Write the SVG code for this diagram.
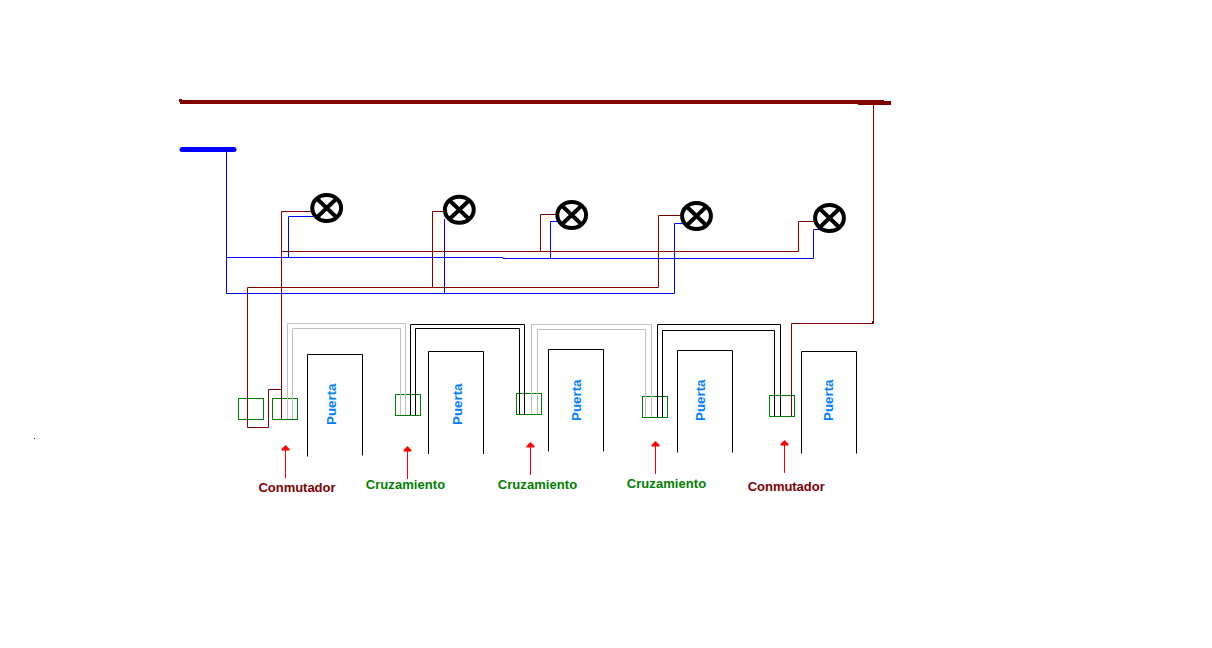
<svg xmlns="http://www.w3.org/2000/svg" width="1212" height="648" viewBox="0 0 1212 648">
<style>
.w{fill:none;stroke-width:1}
.m{stroke:#800000}.b{stroke:#0000ff}.k{stroke:#000}.g{stroke:#c0c0c0}
.box{fill:none;stroke:#008000;stroke-width:1}
.door{fill:none;stroke:#000;stroke-width:1}
.lamp{fill:none;stroke:#000;stroke-width:4}
.pu{font:bold 13.33px "Liberation Sans",Arial,sans-serif;fill:#0080ff}
.con{font:bold 13px "Liberation Sans",Arial,sans-serif;fill:#800000}
.cru{font:bold 13px "Liberation Sans",Arial,sans-serif;fill:#008000}
.ar{stroke:#ff0000;stroke-width:1;fill:none}
.ah{fill:#ff0000}
</style>
<defs>
<g id="lampglyph"><ellipse class="lamp" rx="14.400" ry="13"/><path class="lamp" d="M-10.500-10 10.500 10M10.500-10-10.500 10"/></g>
</defs>
<rect width="1212" height="648" fill="#fff"/>
<g id="busbars">
<path d="M180 102H884" stroke="#800000" stroke-width="4" fill="none"/>
<rect x="179" y="99" width="3" height="3" fill="#800000"/>
<path d="M858 103H891" stroke="#800000" stroke-width="4" fill="none"/>
<path d="M182 149.500H234" stroke="#0000ff" stroke-width="5" stroke-linecap="round" fill="none"/>
<rect x="34" y="438" width="1" height="1" fill="#800000"/>
</g>
<g id="boxes">
<rect class="box" x="238.500" y="398.500" width="25" height="21"/>
<rect class="box" x="272.500" y="398.500" width="25" height="21"/>
<rect class="box" x="395.500" y="394.500" width="25" height="21"/>
<rect class="box" x="516.500" y="393.500" width="25" height="21"/>
<rect class="box" x="642.500" y="396.500" width="25" height="21"/>
<rect class="box" x="769.500" y="395.500" width="25" height="21"/>
</g>
<g id="connectors">
<path class="w b" d="M226.500 150V293.500H674.500V223.500H683"/>
<path class="w b" d="M226.500 257.500H503V258.500H813.500V229.500H821"/>
<path class="w b" d="M288.500 257.500V216.500H313"/>
<path class="w b" d="M444.500 293.500V219"/>
<path class="w b" d="M550.500 258.500V221.500H558"/>
<path class="w m" d="M873.500 103V323.500H791.500V416"/>
<rect x="872" y="321" width="2" height="3" fill="#800000"/>
<path class="w m" d="M314 211.500H281.500V419"/>
<path class="w m" d="M281.500 251.500H798.500V221.500H814"/>
<path class="w m" d="M540.500 251.500V214.500H556"/>
<path class="w m" d="M432.500 287.500V211.500H444"/>
<path class="w m" d="M281.500 389.500H268.500V427.500H247.500V287.500H658.500V215.500H681"/>
<path class="w g" d="M287.500 419V323.500H405.500V415"/>
<path class="w g" d="M292.500 419V328.500H400.500V415"/>
<path class="w k" d="M410.500 415V324.500H524.500V414"/>
<path class="w k" d="M415.500 415V328.500H519.500V414"/>
<path class="w g" d="M531.500 414V324.500H651.500V417"/>
<path class="w g" d="M537.500 414V329.500H645.500V417"/>
<path class="w k" d="M657.500 417V324.500H780.500V416"/>
<path class="w k" d="M662.500 417V330.500H774.500V416"/>
</g>
<g id="lamp1"><use href="#lampglyph" x="326.700" y="208"/></g>
<g id="lamp2"><use href="#lampglyph" x="459.300" y="209.700"/></g>
<g id="lamp3"><use href="#lampglyph" x="571.700" y="215"/></g>
<g id="lamp4"><use href="#lampglyph" x="696.500" y="216"/></g>
<g id="lamp5"><use href="#lampglyph" x="829.500" y="218"/></g>
<g id="door1"><path class="door" d="M307.500 456.500V354.500H362.500V455.500"/><text class="pu" transform="translate(335.500 425) rotate(-90)">Puerta</text></g>
<g id="door2"><path class="door" d="M428.500 454V351.500H483.500V454"/><text class="pu" transform="translate(461.500 425) rotate(-90)">Puerta</text></g>
<g id="door3"><path class="door" d="M548.500 451.500V349.500H603.500V451.500"/><text class="pu" transform="translate(581.300 421) rotate(-90)">Puerta</text></g>
<g id="door4"><path class="door" d="M677.500 452.500V350.500H732.500V452.500"/><text class="pu" transform="translate(704.700 421) rotate(-90)">Puerta</text></g>
<g id="door5"><path class="door" d="M801.500 453.500V351.500H856.500V453.500"/><text class="pu" transform="translate(833.300 421) rotate(-90)">Puerta</text></g>
<g id="label1"><path class="ar" d="M285.500 478V449"/><path class="ah" d="M285.500 445l4 4v1.500h-8v-1.500z"/><text class="con" x="258.500" y="491.500" textLength="77">Conmutador</text></g>
<g id="label2"><path class="ar" d="M407.500 479V450"/><path class="ah" d="M407.500 446l4 4v1.500h-8v-1.500z"/><text class="cru" x="365.700" y="489" textLength="79.500">Cruzamiento</text></g>
<g id="label3"><path class="ar" d="M530.500 475V446"/><path class="ah" d="M530.500 442l4 4v1.500h-8v-1.500z"/><text class="cru" x="497.700" y="489" textLength="79.500">Cruzamiento</text></g>
<g id="label4"><path class="ar" d="M655.500 474V445"/><path class="ah" d="M655.500 441l4 4v1.500h-8v-1.500z"/><text class="cru" x="626.700" y="488" textLength="79.500">Cruzamiento</text></g>
<g id="label5"><path class="ar" d="M784.500 473V444"/><path class="ah" d="M784.500 440l4 4v1.500h-8v-1.500z"/><text class="con" x="747.700" y="490.700" textLength="77">Conmutador</text></g>
</svg>
